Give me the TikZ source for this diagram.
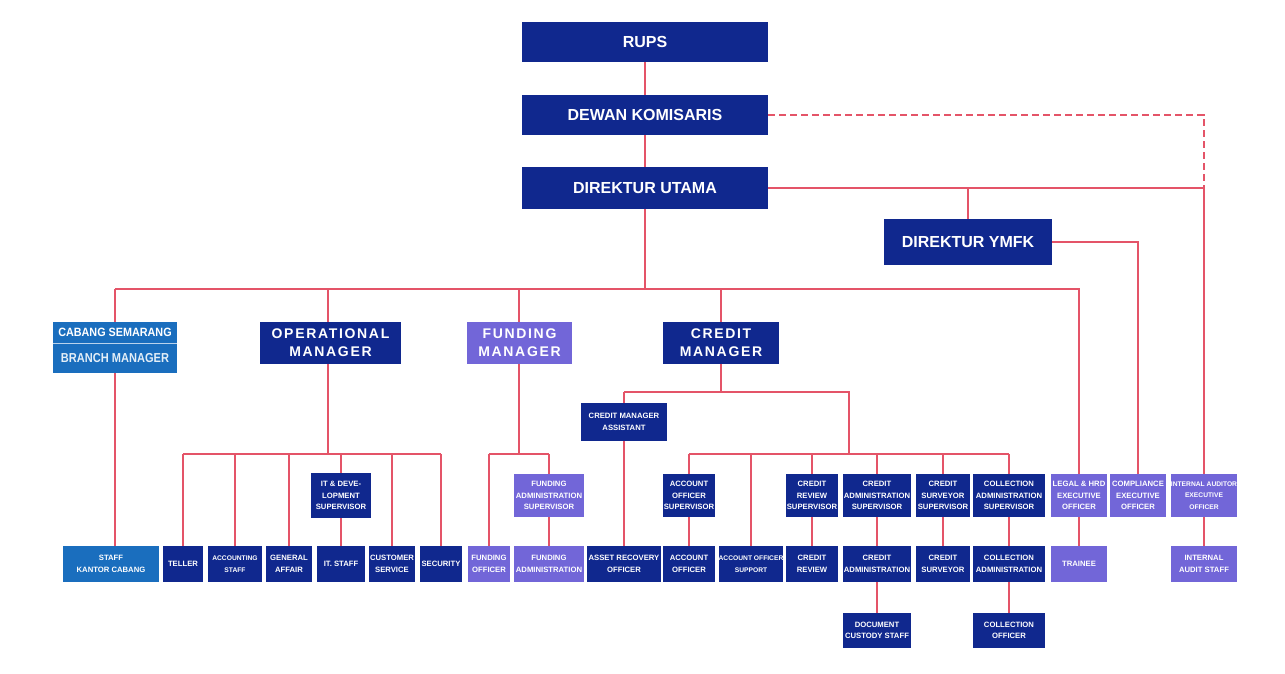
\documentclass[tikz,border=0pt]{standalone}
\usepackage{fontspec}
\setmainfont{Liberation Sans}
\newfontfamily\wfont[LetterSpace=12]{Liberation Sans}
\usetikzlibrary{backgrounds}
\definecolor{dkblue}{RGB}{16,40,142}
\definecolor{lav}{RGB}{114,102,216}
\definecolor{cabblue}{RGB}{26,110,190}
\definecolor{lnred}{RGB}{228,84,104}
\tikzset{
  base/.style={rectangle, inner sep=0pt, text=white, align=center},
  dk/.style={base, fill=dkblue},
  lv/.style={base, fill=lav},
  cb/.style={base, fill=cabblue},
  big/.style={font=\fontsize{16}{18}\selectfont\bfseries},
  mid/.style={font=\fontsize{14}{18}\selectfont\wfont\bfseries},
  sm/.style={font=\fontsize{7.7}{11.5}\selectfont\bfseries},
  xs/.style={font=\fontsize{6.7}{11.5}\selectfont\bfseries},
  ln/.style={draw=lnred, line width=1.8pt},
  dln/.style={draw=lnred, line width=1.8pt, dash pattern=on 7pt off 4pt},
}
\newcommand\bx[7]{\node[#6, minimum width={(#4-#2)*1pt}, minimum height={(#5-#3)*1pt}] (#1) at ({(#2+#4)/2},{(#3+#5)/2}) {#7};}
\begin{document}
\begin{tikzpicture}[x=1pt,y=-1pt]
\useasboundingbox (0,0) rectangle (1285,673);
% top
\bx{rups}{522}{22}{768}{62}{dk,big}{RUPS}
\bx{dewan}{522}{95}{768}{135}{dk,big}{DEWAN KOMISARIS}
\bx{dir}{522}{167}{768}{209}{dk,big}{DIREKTUR UTAMA}
\bx{ymfk}{884}{219}{1052}{265}{dk,big}{DIREKTUR YMFK}
% managers
\bx{cab}{53}{322}{177}{373}{cb}{}
\node[base, font=\fontsize{12}{14}\selectfont\bfseries] (cabt) at (115,332.5) {\scalebox{0.9}[1]{CABANG SEMARANG}};
\node[base, font=\fontsize{13}{15}\selectfont\bfseries, text=white!88!cabblue] (cabb) at (115,358) {\scalebox{0.85}[1]{BRANCH MANAGER}};
\draw[white!70!cabblue, line width=0.8pt] (cab.west |- 0,343) -- (cab.east |- 0,343);
\bx{op}{260}{322}{401}{364}{dk,mid}{OPERATIONAL\\MANAGER}
\bx{fund}{467}{322}{572}{364}{lv,mid}{FUNDING\\MANAGER}
\bx{cred}{663}{322}{779}{364}{dk,mid}{CREDIT\\MANAGER}
% supervisors
\bx{cma}{581}{403}{667}{441}{dk,sm}{CREDIT MANAGER\\ASSISTANT}
\bx{itsup}{311}{473}{371}{518}{dk,sm}{IT \& DEVE-\\LOPMENT\\SUPERVISOR}
\bx{fas}{514}{474}{584}{517}{lv,sm}{FUNDING\\ADMINISTRATION\\SUPERVISOR}
\bx{aos}{663}{474}{715}{517}{dk,sm}{ACCOUNT\\OFFICER\\SUPERVISOR}
\bx{crs}{786}{474}{838}{517}{dk,sm}{CREDIT\\REVIEW\\SUPERVISOR}
\bx{cras}{843}{474}{911}{517}{dk,sm}{CREDIT\\ADMINISTRATION\\SUPERVISOR}
\bx{csv}{916}{474}{970}{517}{dk,sm}{CREDIT\\SURVEYOR\\SUPERVISOR}
\bx{colas}{973}{474}{1045}{517}{dk,sm}{COLLECTION\\ADMINISTRATION\\SUPERVISOR}
\bx{legal}{1051}{474}{1107}{517}{lv,sm}{LEGAL \& HRD\\EXECUTIVE\\OFFICER}
\bx{comp}{1110}{474}{1166}{517}{lv,sm}{COMPLIANCE\\EXECUTIVE\\OFFICER}
\bx{aud}{1171}{474}{1237}{517}{lv,xs}{INTERNAL AUDITOR\\EXECUTIVE\\OFFICER}
% bottom row
\bx{skc}{63}{546}{159}{582}{cb,sm}{STAFF\\KANTOR CABANG}
\bx{teller}{163}{546}{203}{582}{dk,sm}{TELLER}
\bx{acc}{208}{546}{262}{582}{dk,xs}{ACCOUNTING\\STAFF}
\bx{ga}{266}{546}{312}{582}{dk,sm}{GENERAL\\AFFAIR}
\bx{its}{317}{546}{365}{582}{dk,sm}{IT. STAFF}
\bx{cust}{369}{546}{415}{582}{dk,sm}{CUSTOMER\\SERVICE}
\bx{sec}{420}{546}{462}{582}{dk,sm}{SECURITY}
\bx{fo}{468}{546}{510}{582}{lv,sm}{FUNDING\\OFFICER}
\bx{fa}{514}{546}{584}{582}{lv,sm}{FUNDING\\ADMINISTRATION}
\bx{aro}{587}{546}{661}{582}{dk,sm}{ASSET RECOVERY\\OFFICER}
\bx{ao}{663}{546}{715}{582}{dk,sm}{ACCOUNT\\OFFICER}
\bx{aosp}{719}{546}{783}{582}{dk,xs}{ACCOUNT OFFICER\\SUPPORT}
\bx{cr}{786}{546}{838}{582}{dk,sm}{CREDIT\\REVIEW}
\bx{cra}{843}{546}{911}{582}{dk,sm}{CREDIT\\ADMINISTRATION}
\bx{csu}{916}{546}{970}{582}{dk,sm}{CREDIT\\SURVEYOR}
\bx{cola}{973}{546}{1045}{582}{dk,sm}{COLLECTION\\ADMINISTRATION}
\bx{trainee}{1051}{546}{1107}{582}{lv,sm}{TRAINEE}
\bx{ias}{1171}{546}{1237}{582}{lv,sm}{INTERNAL\\AUDIT STAFF}
\bx{dcs}{843}{613}{911}{648}{dk,sm}{DOCUMENT\\CUSTODY STAFF}
\bx{colo}{973}{613}{1045}{648}{dk,sm}{COLLECTION\\OFFICER}
% coordinates
\coordinate (hub) at (645,289);
\coordinate (rt) at (1204,188);
\coordinate (dk1) at (dewan.east -| rt);
\coordinate (opbus) at (328,454);
\coordinate (fbus) at (519,454);
\coordinate (cbus) at (721,392);
\coordinate (cj) at (849,392);
\coordinate (cbus2) at (849,454);
\begin{scope}[on background layer]
\fill[white] (0,0) rectangle (1285,673);
\draw[ln] (rups) -- (dewan);
\draw[ln] (dewan) -- (dir);
\draw[dln] (dewan.east) -- (dk1) -- (rt);
\draw[ln] (dir.east) -- (rt) -- (aud.north);
\draw[ln] (ymfk.north) -- (ymfk.north |- rt);
\draw[ln] (ymfk.east) -- (ymfk.east -| comp.north) -- (comp.north);
\draw[ln] (dir.south) -- (hub);
\draw[ln] (hub -| cab.north) -- (hub -| legal.north) -- (legal.north);
\draw[ln] (cab.north) -- (cab.north |- hub);
\draw[ln] (op.north -| 328,0) -- (hub -| 328,0);
\draw[ln] (fund.north -| fbus) -- (hub -| fbus);
\draw[ln] (cred.north -| cbus) -- (hub -| cbus);
\draw[ln] (cab.south) -- (cab.south |- skc.north);
% operational
\draw[ln] (op.south -| opbus) -- (opbus);
\draw[ln] (opbus -| teller.north) -- (opbus -| sec.north);
\foreach \n in {teller,acc,ga,cust,sec} \draw[ln] (\n.north) -- (\n.north |- opbus);
\draw[ln] (itsup.north) -- (itsup.north |- opbus);
\draw[ln] (itsup.south) -- (its.north -| itsup.south);
% funding
\draw[ln] (fund.south -| fbus) -- (fbus);
\draw[ln] (fbus -| fo.north) -- (fbus -| fas.north);
\draw[ln] (fo.north) -- (fo.north |- fbus);
\draw[ln] (fas.north) -- (fas.north |- fbus);
\draw[ln] (fas.south) -- (fa.north);
% credit
\draw[ln] (cred.south -| cbus) -- (cbus);
\draw[ln] (cbus -| cma.north) -- (cj) -- (cbus2);
\draw[ln] (cma.north) -- (cma.north |- cbus);
\draw[ln] (cma.south) -- (aro.north);
\draw[ln] (cbus2 -| aos.north) -- (cbus2 -| colas.north);
\foreach \n in {aos,crs,cras,csv,colas} \draw[ln] (\n.north) -- (\n.north |- cbus2);
\draw[ln] (aosp.north) -- (aosp.north |- cbus2);
\draw[ln] (aos.south) -- (ao.north);
\draw[ln] (crs.south) -- (cr.north);
\draw[ln] (cras.south) -- (cra.north);
\draw[ln] (cra.south) -- (dcs.north);
\draw[ln] (csv.south) -- (csu.north);
\draw[ln] (colas.south) -- (cola.north);
\draw[ln] (cola.south) -- (colo.north);
\draw[ln] (legal.south) -- (trainee.north);
\draw[ln] (aud.south) -- (ias.north);
\end{scope}
\end{tikzpicture}
\end{document}
